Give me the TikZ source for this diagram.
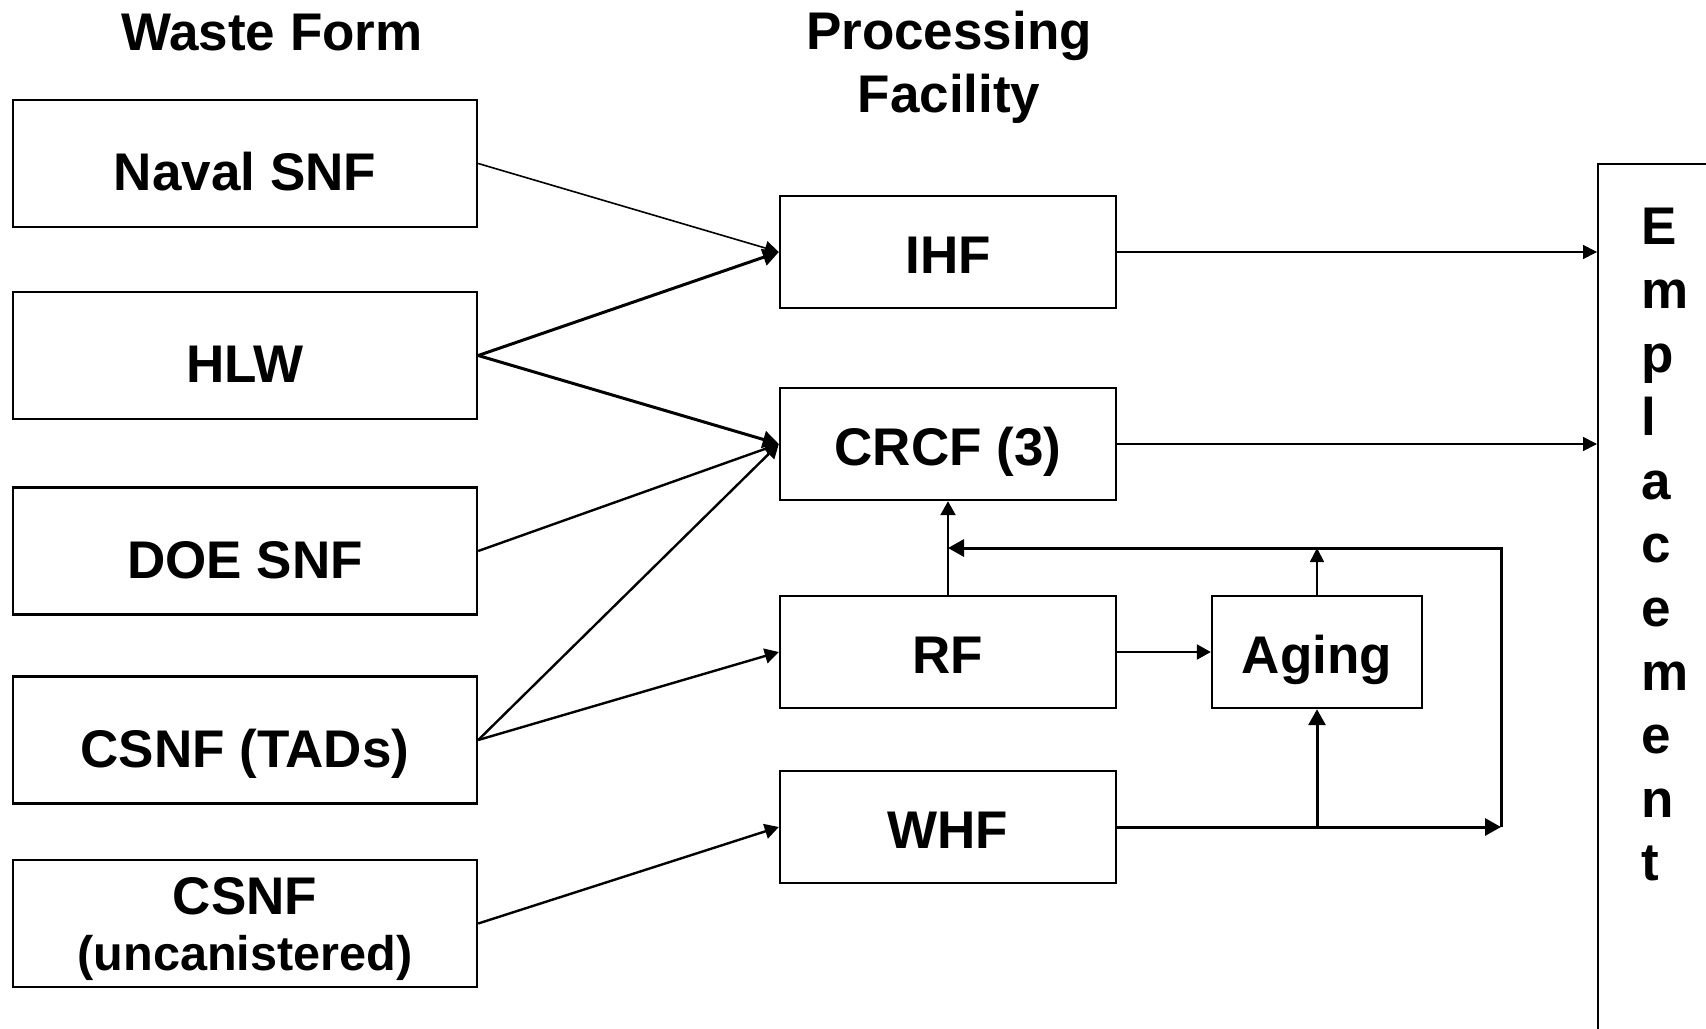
\documentclass[tikz,border=0pt]{standalone}
\usepackage{fontspec}
\setmainfont{Liberation Sans}
\usetikzlibrary{arrows.meta}
\tikzset{
	wasteform/.style={draw, line width=1.2pt, minimum width=232pt, minimum height=63.5pt, inner sep=0pt, align=center},
	facility/.style={draw, line width=1.2pt, minimum width=168pt, minimum height=56pt, inner sep=0pt, text height=21pt, text depth=0pt},
	heading/.style={align=center, inner sep=0pt},
	thinflow/.style={-{Triangle[length=7pt,width=7pt]}, line width=0.8pt},
	flow/.style={-{Triangle[length=7pt,width=7.5pt]}, line width=1.2pt},
	thickflow/.style={-{Triangle[length=8pt,width=8.5pt]}, line width=1.5pt}
}

\begin{document}
\begin{tikzpicture}[x=0.5pt, y=-0.5pt, font=\fontsize{26.5}{29}\selectfont\bfseries]
	\path[use as bounding box, clip] (0, 0) rectangle (1706, 1028);
	% headings
	\node [heading] (wfhead) at (272, 33) {Waste Form};
	\node [heading, font=\fontsize{26.5}{31.5}\selectfont\bfseries] (pfhead) at (949, 67) {Processing\\Facility};
	% nodes
	\node [wasteform, text height=27pt, text depth=0pt] (naval) at (245, 163.5) {Naval SNF};
	\node [wasteform, text height=27pt, text depth=0pt] (hlw) at (245, 355.5) {HLW};
	\node [wasteform, text height=27pt, text depth=0pt] (doe) at (245, 551) {DOE SNF};
	\node [wasteform, text height=27pt, text depth=0pt] (tads) at (245, 740) {CSNF (TADs)};
	\node [wasteform, font=\fontsize{26.5}{28}\selectfont\bfseries, text depth=0pt] (uncan) at (245, 923.5)
	{CSNF\\\fontsize{24.3}{28}\selectfont (uncanistered)};
	\node [facility] (ihf) at (948, 252) {IHF};
	\node [facility] (crcf) at (948, 444) {CRCF (3)};
	\node [facility] (rf) at (948, 652) {RF};
	\node [facility] (whf) at (948, 827) {WHF};
	\node [facility, minimum width=105pt] (aging) at (1317, 652) {Aging};
	\node [draw, line width=1.2pt, anchor=north west, minimum width=100pt, minimum height=480pt] (emp) at (1597, 163) {};
	\node [anchor=north west, align=left, inner sep=0pt, font=\fontsize{26.5}{31.8}\selectfont\bfseries] (emptext) at (1641, 208)
	{E\\m\\p\\l\\a\\c\\e\\m\\e\\n\\t};
	\coordinate (loopbr) at (1501, 827);
	\coordinate (looptr) at (1501, 548);
	\coordinate (rftop) at (948, 548);
	% edges into the facilities
	\draw [thinflow] (naval.east) to (ihf.west);
	\draw [thickflow] (hlw.east) to (ihf.west);
	\draw [thickflow] (hlw.east) to (crcf.west);
	\draw [flow] (doe.east) to (crcf.west);
	\draw [flow] (tads.east) to (crcf.west);
	\draw [flow] (tads.east) to (rf.west);
	\draw [flow] (uncan.east) to (whf.west);
	% edges to emplacement
	\draw [thinflow] (ihf.east) to (emp.west |- ihf.east);
	\draw [thinflow] (crcf.east) to (emp.west |- crcf.east);
	% rf, aging and the loop
	\draw [flow] (rf.north) to (crcf.south);
	\draw [flow] (rf.east) to (aging.west);
	\draw [thinflow] (aging.north) to (aging.north |- looptr);
	\draw [thickflow] (aging.south |- loopbr) to (aging.south);
	\draw [thickflow] (whf.east) to (loopbr);
	\draw [thickflow] (loopbr) to (looptr) to (rftop);
\end{tikzpicture}
\end{document}
